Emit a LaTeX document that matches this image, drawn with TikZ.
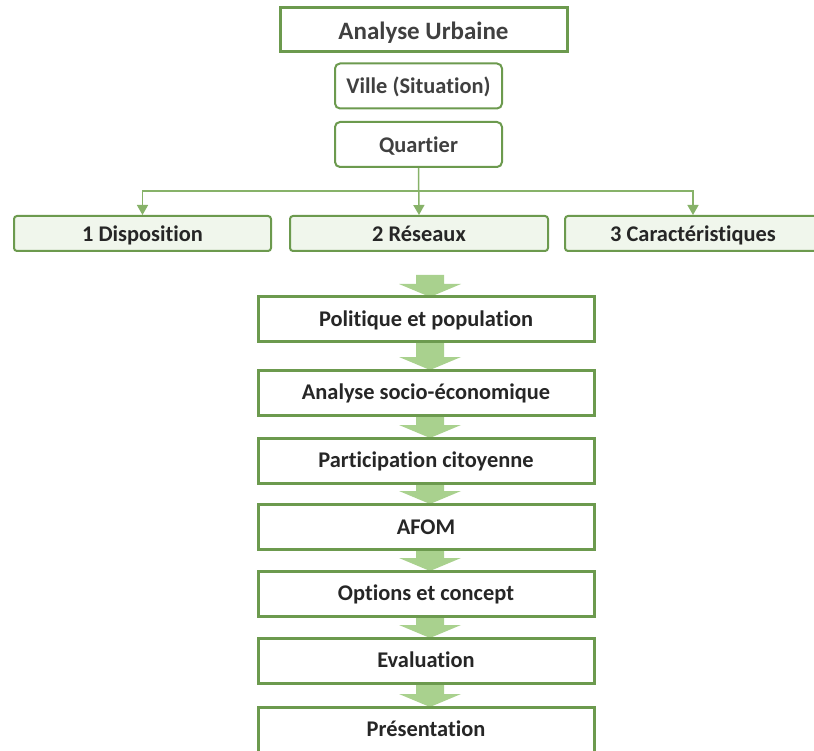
\documentclass[tikz,border=0pt]{standalone}
\usepackage{fontspec}
\setmainfont{Carlito}[Ligatures=NoCommon]
\usetikzlibrary{arrows.meta,calc}

\definecolor{bordvert}{RGB}{108,154,78}
\definecolor{lienvert}{RGB}{135,178,105}
\definecolor{flechevert}{RGB}{169,209,142}
\definecolor{fondniveau}{RGB}{240,246,236}
\definecolor{texte}{RGB}{38,38,38}
\definecolor{textegris}{RGB}{64,64,64}

\tikzset{
  titre/.style={draw=bordvert, line width=3pt, fill=white, minimum width=287pt,
    minimum height=44pt, inner sep=0pt, text=textegris, text height=20pt, text depth=1.4pt,
    font=\bfseries\fontsize{25}{27}\selectfont},
  echelle/.style={draw=bordvert, line width=2pt, rounded corners=5pt, fill=white,
    minimum width=167pt, minimum height=45pt, inner sep=0pt, text=textegris,
    text height=18pt, text depth=2pt, font=\bfseries\fontsize{22.4}{24}\selectfont},
  niveau/.style={draw=bordvert, line width=2pt, rounded corners=3pt, fill=fondniveau,
    minimum height=35pt, inner sep=0pt, text=texte, text height=18pt, text depth=1.6pt,
    font=\bfseries\fontsize{22.4}{24}\selectfont},
  etape/.style={draw=bordvert, line width=3pt, fill=white, minimum width=336pt,
    minimum height=45pt, inner sep=0pt, text=texte, text height=17pt, text depth=2.6pt,
    font=\bfseries\fontsize{22.4}{24}\selectfont},
  lien/.style={draw=lienvert, line width=1.5pt, -{Triangle[width=11pt,length=10pt]}},
  bloc/.style={fill=flechevert, draw=none}
}

% wide block arrow from the point #1 down to the point #2
\newcommand\flecheverte[2]{%
  \path[bloc] let \p1=(#1), \p2=(#2) in
    (\x1+4pt-14pt,\y1) -- (\x1+4pt+14pt,\y1) -- (\x1+4pt+14pt,\y2+13pt)
    -- (\x1+4pt+31pt,\y2+13pt) -- (\x1+4pt,\y2) -- (\x1+4pt-31pt,\y2+13pt)
    -- (\x1+4pt-14pt,\y2+13pt) -- cycle;}

\begin{document}
\begin{tikzpicture}[x=1pt,y=-1pt]
\useasboundingbox (0,0) rectangle (814,751);

% upper part: scale of the analysis
\node[titre]   (urbaine)  at (423.5,30)  {Analyse Urbaine};
\node[echelle] (ville)    at (418.5,86)  {Ville (Situation)};
\node[echelle] (quartier) at (418.5,144.5) {Quartier};

% the three fields of study
\node[niveau, minimum width=257pt] (dispo)  at (142.5,233.5) {1 Disposition};
\node[niveau, minimum width=258pt] (reseau) at (419,233.5)   {2 Réseaux};
\node[niveau, minimum width=256pt] (carac)  at (693,233.5)   {3 Caractéristiques};

\coordinate (branche) at (418.5,191);
\draw[lien] (quartier.south) -- (reseau.north);
\draw[lien] (branche) -| (dispo.north);
\draw[lien] (branche) -| (carac.north);

% the steps of the process
\coordinate (depart) at (426,275);
\flecheverte{depart}{426,297}
\flecheverte{426,343}{426,370}
\flecheverte{426,416}{426,438}
\flecheverte{426,484}{426,504}
\flecheverte{426,551}{426,571}
\flecheverte{426,617}{426,638}
\flecheverte{426,684}{426,707}

\node[etape] (politique)  at (426,319.5) {Politique et population};
\node[etape] (socio)      at (426,392.5) {Analyse socio-économique};
\node[etape] (participe)  at (426,460.5) {Participation citoyenne};
\node[etape] (afom)       at (426,527)   {AFOM};
\node[etape] (options)    at (426,593.5) {Options et concept};
\node[etape] (evaluation) at (426,660.5) {Evaluation};
\node[etape] (present)    at (426,729.5) {Présentation};
\end{tikzpicture}
\end{document}
